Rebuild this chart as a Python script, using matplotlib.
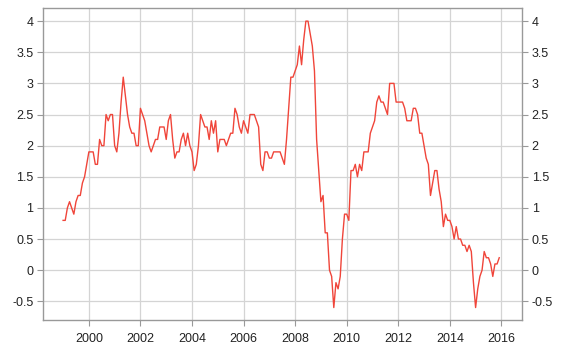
import numpy as np
import matplotlib
matplotlib.use("Agg")
import matplotlib.pyplot as plt

# monthly values, Jan 1999 - Dec 2015
start_year = 1999
values = [
    0.8, 0.8, 1.0, 1.1, 1.0, 0.9, 1.1, 1.2, 1.2, 1.4, 1.5, 1.7,   # 1999
    1.9, 1.9, 1.9, 1.7, 1.7, 2.1, 2.0, 2.0, 2.5, 2.4, 2.5, 2.5,   # 2000
    2.0, 1.9, 2.2, 2.7, 3.1, 2.8, 2.5, 2.3, 2.2, 2.2, 2.0, 2.0,   # 2001
    2.6, 2.5, 2.4, 2.2, 2.0, 1.9, 2.0, 2.1, 2.1, 2.3, 2.3, 2.3,   # 2002
    2.1, 2.4, 2.5, 2.1, 1.8, 1.9, 1.9, 2.1, 2.2, 2.0, 2.2, 2.0,   # 2003
    1.9, 1.6, 1.7, 2.0, 2.5, 2.4, 2.3, 2.3, 2.1, 2.4, 2.2, 2.4,   # 2004
    1.9, 2.1, 2.1, 2.1, 2.0, 2.1, 2.2, 2.2, 2.6, 2.5, 2.3, 2.2,   # 2005
    2.4, 2.3, 2.2, 2.5, 2.5, 2.5, 2.4, 2.3, 1.7, 1.6, 1.9, 1.9,   # 2006
    1.8, 1.8, 1.9, 1.9, 1.9, 1.9, 1.8, 1.7, 2.1, 2.6, 3.1, 3.1,   # 2007
    3.2, 3.3, 3.6, 3.3, 3.7, 4.0, 4.0, 3.8, 3.6, 3.2, 2.1, 1.6,   # 2008
    1.1, 1.2, 0.6, 0.6, 0.0, -0.1, -0.6, -0.2, -0.3, -0.1, 0.5, 0.9,  # 2009
    0.9, 0.8, 1.6, 1.6, 1.7, 1.5, 1.7, 1.6, 1.9, 1.9, 1.9, 2.2,   # 2010
    2.3, 2.4, 2.7, 2.8, 2.7, 2.7, 2.6, 2.5, 3.0, 3.0, 3.0, 2.7,   # 2011
    2.7, 2.7, 2.7, 2.6, 2.4, 2.4, 2.4, 2.6, 2.6, 2.5, 2.2, 2.2,   # 2012
    2.0, 1.8, 1.7, 1.2, 1.4, 1.6, 1.6, 1.3, 1.1, 0.7, 0.9, 0.8,   # 2013
    0.8, 0.7, 0.5, 0.7, 0.5, 0.5, 0.4, 0.4, 0.3, 0.4, 0.3, -0.2,  # 2014
    -0.6, -0.3, -0.1, 0.0, 0.3, 0.2, 0.2, 0.1, -0.1, 0.1, 0.1, 0.2,  # 2015
]
x_ticks = [2000, 2002, 2004, 2006, 2008, 2010, 2012, 2014, 2016]
y_ticks = [-0.5, 0, 0.5, 1, 1.5, 2, 2.5, 3, 3.5, 4]
y_labels = ["-0.5", "0", "0.5", "1", "1.5", "2", "2.5", "3", "3.5", "4"]

plt.rcParams['font.family'] = ['Liberation Sans', 'DejaVu Sans']

dates = start_year + np.arange(len(values)) / 12.0

fig = plt.figure(figsize=(5.61, 3.5), dpi=100)
ax = fig.add_axes([0.0766, 0.0857, 0.8539, 0.8913])

ax.plot(dates, values, color='#f0453a', lw=1.0)

ax.set_xlim(1998.22, 2016.8)
ax.set_ylim(-0.8, 4.21)
ax.set_xticks(x_ticks)
ax.set_xticklabels([str(t) for t in x_ticks])
ax.set_yticks(y_ticks)
ax.set_yticklabels(y_labels)

ax.grid(True, color='#d4d4d4', lw=0.9)
ax.set_axisbelow(True)

for s in ax.spines.values():
    s.set_color('#999999')
    s.set_linewidth(1.0)

ax.tick_params(axis='both', colors='#999999', labelcolor='#222222',
               labelsize=9, length=4, width=0.8)
ax.tick_params(axis='y', left=True, right=True, labelleft=True, labelright=True, pad=3)
ax.tick_params(axis='x', pad=5)

fig.savefig('out.png', dpi=100)
